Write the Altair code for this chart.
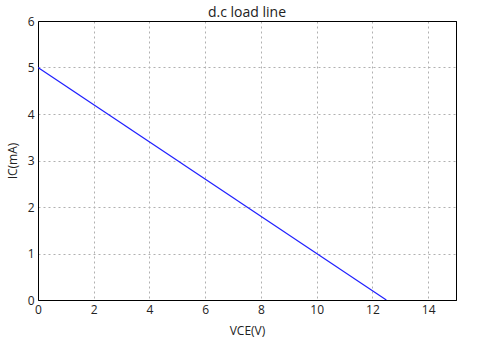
import altair as alt
import pandas as pd

vce = [0, 12.5]
ic = [5, 0]
x_ticks = [0, 2, 4, 6, 8, 10, 12, 14]
y_ticks = [0, 1, 2, 3, 4, 5, 6]

df = pd.DataFrame({"VCE": vce, "IC": ic})

font = "Open Sans"

xscale = alt.Scale(domain=[0, 15], nice=False)
yscale = alt.Scale(domain=[0, 6], nice=False)

line = alt.Chart(df).mark_line(color="#2020ff", strokeWidth=1.2, clip=True).encode(
    x=alt.X("VCE:Q", scale=xscale,
            axis=alt.Axis(title="VCE(V)", values=x_ticks, grid=True, gridDash=[2, 3],
                          gridColor="#b0b0b0", gridOpacity=1, domainColor="black",
                          tickColor="black", tickSize=0, labelPadding=4, labelFlush=False,
                          labelFont=font, labelFontSize=12, labelColor="#222222",
                          titleFont=font, titleFontSize=12, titleFontWeight="normal",
                          titleColor="#222222", titlePadding=10, format="d")),
    y=alt.Y("IC:Q", scale=yscale,
            axis=alt.Axis(title="IC(mA)", values=y_ticks, grid=True, gridDash=[2, 3],
                          gridColor="#b0b0b0", gridOpacity=1, domainColor="black",
                          tickColor="black", tickSize=0, labelPadding=4, labelFlush=False,
                          labelFont=font, labelFontSize=12, labelColor="#222222",
                          titleFont=font, titleFontSize=12, titleFontWeight="normal",
                          titleColor="#222222", titlePadding=8, format="d")),
)

frame = alt.Chart(df).mark_line(opacity=0).encode(
    x=alt.X("VCE:Q", scale=xscale,
            axis=alt.Axis(orient="top", title=None, labels=False, ticks=False, grid=False,
                          domainColor="black", zindex=2)),
    y=alt.Y("IC:Q", scale=yscale,
            axis=alt.Axis(orient="right", title=None, labels=False, ticks=False, grid=False,
                          domainColor="black", zindex=2)),
)

chart = alt.layer(line, frame).resolve_axis(x="independent", y="independent").properties(
    width=418, height=279,
    title=alt.TitleParams("d.c load line", font=font, fontSize=14, fontWeight="normal",
                          color="#222222", offset=-5),
    autosize=alt.AutoSizeParams(type="none"),
    padding={"left": 38, "top": 21, "right": 46, "bottom": 51},
).configure_view(stroke="black", strokeWidth=1)

chart.save("out.html", embed_options={"renderer": "svg", "actions": False})
